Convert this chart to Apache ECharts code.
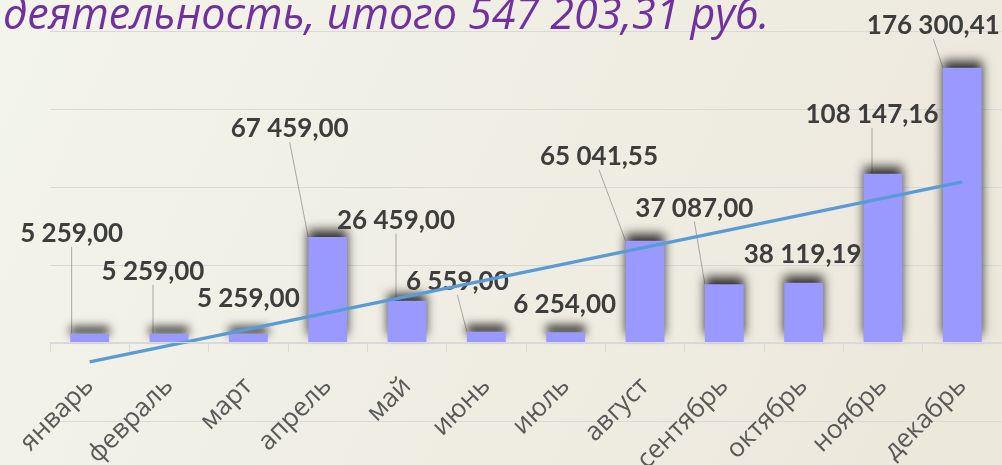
<!DOCTYPE html>
<html>
<head>
<meta charset="utf-8">
<script src="https://cdn.jsdelivr.net/npm/echarts@6/dist/echarts.min.js"></script>
<style>
  html, body { margin: 0; padding: 0; }
  #main { width: 1002px; height: 465px; }
</style>
</head>
<body>
<div id="main"></div>
<script>
var months = ['январь', 'февраль', 'март', 'апрель', 'май', 'июнь', 'июль', 'август', 'сентябрь', 'октябрь', 'ноябрь', 'декабрь'];
var amounts = [5259.00, 5259.00, 5259.00, 67459.00, 26459.00, 6559.00, 6254.00, 65041.55, 37087.00, 38119.19, 108147.16, 176300.41];
// trend line ends (январь .. декабрь)
var trendEnds = [-12100, 103300];
var titleText = 'деятельность, итого 547 203,31 руб.';

// where each value label was dragged to (offset from default 'top' spot)
var labelShift = [[-18, -82], [-16, -44], [0, -17], [-38, -90], [-11, -62], [-29, -32],
  [-1, -10], [-46, -66], [-30, -58], [-1, -10], [-11, -41], [-29, -24]];
var noLeader = [2, 6, 9];

function fmt(v) {
  var p = v.toFixed(2).split('.');
  return p[0].replace(/\B(?=(\d{3})+(?!\d))/g, ' ') + ',' + p[1];
}

var chartDom = document.getElementById('main');
var myChart = echarts.init(chartDom);
var option;

var noAxisBits = {
  axisLabel: { show: false },
  axisLine: { show: false },
  axisTick: { show: false }
};

option = {
  backgroundColor: {
    type: 'linear', x: 0, y: 0, x2: 1, y2: 1,
    colorStops: [
      { offset: 0, color: '#f3f4eb' },
      { offset: 1, color: '#ece7db' }
    ]
  },
  title: {
    text: titleText,
    left: -2,
    top: -10,
    textStyle: {
      color: '#7030a0',
      fontStyle: 'italic',
      fontWeight: 'normal',
      fontFamily: 'Open Sans',
      fontSize: 43
    }
  },
  grid: [
    // bars: value axis 0..200 000, category axis sits on zero
    { left: 50, right: 0, top: 31, bottom: 123, outerBoundsMode: 'none' },
    // whole plot, -50 000..200 000: gridlines + trend line
    { left: 50, right: 0, top: 31, bottom: 44, outerBoundsMode: 'none' }
  ],
  xAxis: [
    {
      type: 'category',
      data: months,
      gridIndex: 0,
      axisLine: { lineStyle: { color: '#d9d9d9', width: 1 } },
      axisTick: { show: true, length: 10, lineStyle: { color: '#d9d9d9' } },
      axisLabel: {
        rotate: 45,
        margin: 40,
        color: '#595959',
        fontFamily: 'Open Sans',
        fontSize: 26
      },
      z: 4
    },
    Object.assign({ type: 'category', data: months, gridIndex: 1 }, noAxisBits)
  ],
  yAxis: [
    Object.assign({
      type: 'value', gridIndex: 0, min: 0, max: 200000, interval: 50000,
      splitLine: { show: false }
    }, noAxisBits),
    Object.assign({
      type: 'value', gridIndex: 1, min: -50000, max: 200000, interval: 50000,
      splitLine: { lineStyle: { color: '#d9d9d9', width: 1 } }
    }, noAxisBits)
  ],
  series: [
    {
      type: 'bar',
      xAxisIndex: 0,
      yAxisIndex: 0,
      barWidth: '49%',
      data: amounts.map(function (v, i) {
        return { value: v, labelLine: { show: noLeader.indexOf(i) < 0 } };
      }),
      itemStyle: {
        color: '#9999ff',
        shadowColor: 'rgba(0,0,0,0.8)',
        shadowBlur: 10,
        shadowOffsetY: -7
      },
      label: {
        show: true,
        position: 'top',
        distance: 5,
        color: '#3d3d3d',
        fontWeight: 'bold',
        fontFamily: 'Lato',
        fontSize: 26,
        formatter: function (p) { return fmt(p.value); }
      },
      labelLine: {
        show: true,
        lineStyle: { color: '#a6a6a6', width: 1 }
      },
      labelLayout: function (p) {
        var s = labelShift[p.dataIndex];
        return { dx: s[0], dy: s[1] };
      },
      z: 2
    },
    {
      type: 'line',
      xAxisIndex: 1,
      yAxisIndex: 1,
      data: [[months[0], trendEnds[0]], [months[months.length - 1], trendEnds[1]]],
      symbol: 'none',
      lineStyle: { color: '#5b9bd5', width: 3.5 },
      z: 3
    }
  ]
};

option && myChart.setOption(option);
</script>
</body>
</html>
